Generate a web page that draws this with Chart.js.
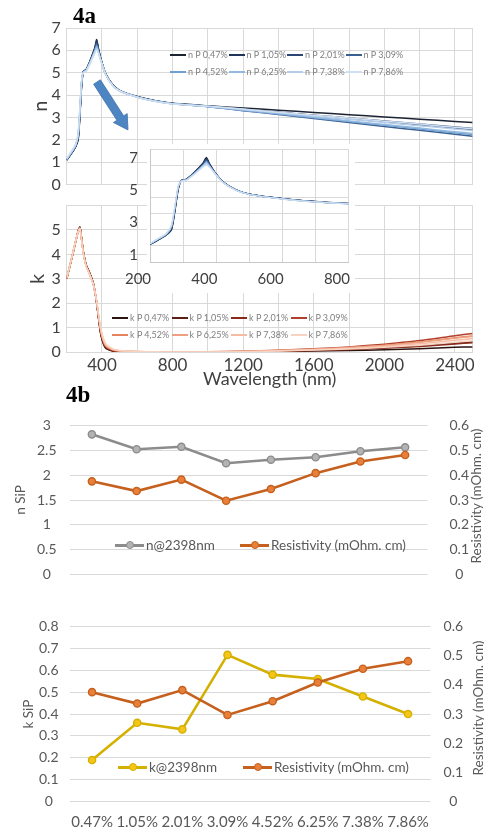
<!DOCTYPE html>
<html><head><meta charset="utf-8">
<script src="https://cdn.jsdelivr.net/npm/chart.js@4.4.1/dist/chart.umd.min.js"></script>
<style>
html,body{margin:0;padding:0;background:#fff;}
body{width:484px;height:832px;position:relative;overflow:hidden;font-family:Lato,"Open Sans",sans-serif;}
canvas{position:absolute;}
.li{position:absolute;font-size:9px;line-height:10px;color:#7f7f7f;display:flex;align-items:center;white-space:nowrap;transform:translateY(-50%);}
.sw{display:inline-block;width:16px;height:2px;margin-right:2px;}
.bl{position:absolute;font-size:13.5px;color:#595959;display:flex;align-items:center;white-space:nowrap;transform:translateY(-50%);}
.mk{position:relative;display:inline-block;width:29px;height:3px;margin-right:2px;}
.mk i{position:absolute;left:50%;top:50%;width:6px;height:6px;border-radius:50%;transform:translate(-50%,-50%);border:1.5px solid;}
.rt{position:absolute;transform:translate(-50%,-50%) rotate(-90deg);font-size:13.5px;color:#595959;white-space:nowrap;}
.fig{position:absolute;font-family:"Liberation Serif","DejaVu Serif",serif;font-weight:bold;font-size:23px;line-height:23px;color:#000;}
</style></head><body>
<canvas id="cN" width="484" height="200" style="left:0;top:0"></canvas>
<canvas id="cK" width="484" height="200" style="left:0;top:190px"></canvas>
<canvas id="cIn" width="252" height="165" style="left:118px;top:128px"></canvas>
<canvas id="cB1" width="484" height="210" style="left:0;top:395px"></canvas>
<canvas id="cB2" width="484" height="227" style="left:0;top:605px"></canvas>
<svg width="484" height="200" style="position:absolute;left:0;top:0;pointer-events:none">
  <polygon points="100.4,79.8 123.7,115.9 127.2,113.6 128,129.9 113.4,122.5 116.9,120.3 93.6,84.2" fill="#4d84c2" stroke="#3f72ad" stroke-width="0.8"/>
</svg>
<div class="fig" style="left:73px;top:4px">4a</div>
<div class="fig" style="left:66px;top:383px">4b</div>
<div id="legN"></div>
<div id="legK"></div>
<div id="leg4b"></div>
<script>
// ---------- data ----------
const wavelengths = [200,230,250,265,275,285,295,310,330,350,360,370,380,395,420,460,500,600,700,800,1000,1200,1400,1600,1800,2000,2200,2400,2500];
const wavelengthTicks = [200,400,600,800,1000,1200,1400,1600,1800,2000,2200,2400,2500];
const nLabels = ['n P 0,47%','n P 1,05%','n P 2,01%','n P 3,09%','n P 4,52%','n P 6,25%','n P 7,38%','n P 7,86%'];
const kLabels = ['k P 0,47%','k P 1,05%','k P 2,01%','k P 3,09%','k P 4,52%','k P 6,25%','k P 7,38%','k P 7,86%'];
const nColors = ['#1c2434','#22335a','#2b4674','#3a5f91','#6f9fd0','#93b9e0','#b3cdea','#cfdff1'];
const kColors = ['#2b1410','#5c1f14','#8a2a1a','#b0402a','#e4835f','#eea080','#f4bca2','#f8d3c2'];

const nP047 = [1.08,1.42,1.68,2.00,3.10,4.45,5.05,5.14,5.48,5.90,6.14,6.48,6.08,5.58,4.97,4.47,4.21,3.93,3.75,3.63,3.52,3.42,3.32,3.22,3.12,3.02,2.92,2.82,2.77];
const nP105 = [1.09,1.43,1.69,2.04,3.15,4.50,5.06,5.13,5.47,5.88,6.10,6.42,6.05,5.57,4.96,4.46,4.20,3.92,3.74,3.62,3.50,3.36,3.22,3.08,2.94,2.80,2.66,2.52,2.45];
const nP201 = [1.10,1.44,1.70,2.08,3.20,4.55,5.06,5.12,5.46,5.86,6.07,6.36,6.02,5.56,4.96,4.46,4.20,3.92,3.74,3.62,3.50,3.37,3.23,3.10,2.97,2.84,2.70,2.57,2.50];
const nP309 = [1.11,1.45,1.71,2.12,3.25,4.58,5.05,5.11,5.45,5.84,6.04,6.30,5.98,5.55,4.95,4.45,4.19,3.91,3.73,3.61,3.48,3.30,3.13,2.95,2.77,2.59,2.42,2.24,2.15];
const nP452 = [1.12,1.47,1.73,2.18,3.32,4.62,5.04,5.10,5.43,5.80,6.00,6.22,5.95,5.53,4.94,4.45,4.19,3.91,3.73,3.61,3.48,3.31,3.15,2.98,2.81,2.65,2.48,2.31,2.23];
const nP625 = [1.13,1.48,1.75,2.22,3.38,4.66,5.03,5.09,5.41,5.77,5.96,6.15,5.92,5.52,4.94,4.44,4.19,3.91,3.73,3.61,3.49,3.33,3.17,3.01,2.84,2.68,2.52,2.36,2.28];
const nP738 = [1.14,1.50,1.77,2.26,3.42,4.68,5.02,5.08,5.39,5.74,5.93,6.08,5.89,5.51,4.93,4.44,4.18,3.90,3.72,3.61,3.50,3.35,3.21,3.06,2.92,2.77,2.63,2.48,2.41];
const nP786 = [1.15,1.51,1.78,2.30,3.46,4.70,5.01,5.07,5.37,5.72,5.90,6.02,5.86,5.50,4.93,4.43,4.18,3.90,3.72,3.60,3.50,3.37,3.23,3.10,2.97,2.83,2.70,2.56,2.49];

const kP047 = [3.00,3.88,4.50,4.97,5.12,4.62,4.08,3.58,3.25,2.85,2.48,2.00,1.40,0.65,0.16,0.04,0.01,0.00,0.00,0.00,0.00,0.01,0.02,0.04,0.06,0.09,0.13,0.19,0.21];
const kP105 = [3.00,3.88,4.50,4.96,5.11,4.61,4.07,3.57,3.24,2.83,2.47,2.00,1.42,0.68,0.19,0.05,0.02,0.01,0.00,0.00,0.00,0.01,0.04,0.07,0.11,0.17,0.25,0.36,0.41];
const kP201 = [3.00,3.89,4.51,4.96,5.10,4.60,4.06,3.56,3.22,2.82,2.46,2.01,1.44,0.71,0.21,0.06,0.02,0.01,0.00,0.00,0.00,0.01,0.03,0.06,0.10,0.16,0.23,0.33,0.38];
const kP309 = [3.01,3.89,4.51,4.95,5.09,4.59,4.05,3.55,3.21,2.81,2.45,2.02,1.46,0.74,0.23,0.07,0.03,0.01,0.00,0.00,0.01,0.03,0.07,0.13,0.21,0.32,0.47,0.67,0.76];
const kP452 = [3.01,3.90,4.52,4.95,5.08,4.58,4.04,3.54,3.20,2.80,2.45,2.03,1.48,0.78,0.26,0.09,0.04,0.01,0.00,0.00,0.01,0.02,0.06,0.11,0.18,0.28,0.41,0.58,0.66];
const kP625 = [3.02,3.90,4.52,4.94,5.07,4.57,4.03,3.53,3.19,2.80,2.46,2.05,1.50,0.82,0.29,0.10,0.05,0.02,0.00,0.00,0.01,0.02,0.06,0.11,0.18,0.27,0.40,0.56,0.64];
const kP738 = [3.02,3.91,4.53,4.94,5.06,4.56,4.02,3.52,3.18,2.79,2.46,2.06,1.53,0.86,0.32,0.12,0.05,0.02,0.01,0.00,0.00,0.02,0.05,0.09,0.15,0.23,0.34,0.48,0.55];
const kP786 = [3.03,3.91,4.53,4.93,5.05,4.55,4.01,3.51,3.17,2.79,2.47,2.08,1.56,0.90,0.35,0.13,0.06,0.02,0.01,0.00,0.00,0.01,0.04,0.08,0.12,0.19,0.28,0.40,0.46];

const phosphorus = ['0.47%','1.05%','2.01%','3.09%','4.52%','6.25%','7.38%','7.86%'];
const nAt2398 = [2.82,2.52,2.57,2.24,2.31,2.36,2.48,2.56];
const kAt2398 = [0.19,0.36,0.33,0.67,0.58,0.56,0.48,0.40];
const resistivity = [0.375,0.336,0.382,0.297,0.344,0.408,0.455,0.481];
const nLabel4b = 'n@2398nm', kLabel4b = 'k@2398nm', resLabel = 'Resistivity (mOhm. cm)';

const nSeries = [nP047,nP105,nP201,nP309,nP452,nP625,nP738,nP786];
const kSeries = [kP047,kP105,kP201,kP309,kP452,kP625,kP738,kP786];

// ---------- styling ----------
Chart.defaults.font.family = 'Lato, "Open Sans", sans-serif';
Chart.defaults.color = '#404040';
const GRID = '#d9d9d9';
const base = {responsive:false, animation:false, devicePixelRatio:1, events:[],
  plugins:{legend:{display:false}, tooltip:{enabled:false}}};
const fmt = v => String(Math.round(v*100)/100);

function spectrum(arrs, labels, colors, w){
  return arrs.map((arr,i)=>({label:labels[i],
    data:wavelengths.map((x,j)=>({x:x,y:arr[j]})),
    borderColor:colors[i], backgroundColor:colors[i], borderWidth:w,
    pointRadius:0, tension:0.2, fill:false, order:arrs.length-1-i}));
}
const setTicks = s => { s.ticks = wavelengthTicks.map(v=>({value:v})); };

// n panel
new Chart(document.getElementById('cN'), {type:'line',
  data:{datasets:spectrum(nSeries,nLabels,nColors,1.5)},
  options:{...base, layout:{padding:{left:0,right:11.4,top:28,bottom:14}},
    scales:{
      x:{type:'linear',min:200,max:2500,afterBuildTicks:setTicks,ticks:{display:false},
         grid:{color:GRID,drawTicks:false},border:{color:GRID},afterFit:s=>{s.height=0;}},
      y:{min:0,max:7,ticks:{stepSize:1,padding:6,font:{size:16}},grid:{color:GRID,drawTicks:false},
         border:{color:GRID},title:{display:true,text:'n',font:{size:20},padding:{top:29,bottom:0}},
         afterFit:s=>{s.width=66.7;}}
    }}});

// k panel
new Chart(document.getElementById('cK'), {type:'line',
  data:{datasets:spectrum(kSeries,kLabels,kColors,1.5)},
  options:{...base, layout:{padding:{left:0,right:11.4,top:2,bottom:0}},
    scales:{
      x:{type:'linear',min:200,max:2500,afterBuildTicks:setTicks,
         ticks:{autoSkip:false,maxRotation:0,padding:3,font:{size:17},
           callback:v=>(v%400===0&&v>=400&&v<=2400)?v:''},
         grid:{color:GRID,drawTicks:false},border:{color:GRID},
         title:{display:true,text:'Wavelength (nm)',font:{size:18},padding:{top:0,bottom:0}},
         afterFit:s=>{s.height=38;}},
      y:{min:0,max:6,ticks:{stepSize:1,padding:6,font:{size:16},callback:v=>v===6?'':v},
         grid:{color:GRID,drawTicks:false},border:{color:GRID},
         title:{display:true,text:'k',font:{size:20},padding:{top:26,bottom:0}},
         afterFit:s=>{s.width=66.7;}}
    }}});

// inset
const insetBg = {id:'insetBg', beforeDraw(c){const a=c.chartArea, x=c.ctx; x.save(); x.fillStyle='#fff';
  x.fillRect(a.left-3,a.top-5,a.right-a.left+9,c.height-(a.top-5)); x.restore();}};
new Chart(document.getElementById('cIn'), {type:'line',
  data:{datasets:spectrum(nSeries,nLabels,nColors,1.2)},
  plugins:[insetBg],
  options:{...base, layout:{padding:{left:0,right:10,top:7,bottom:6}},
    scales:{
      x:{type:'linear',min:200,max:800,ticks:{stepSize:100,autoSkip:false,maxRotation:0,labelOffset:-12,padding:8,
           font:{size:15},callback:v=>v%200===0?v:''},
         grid:{color:GRID,drawTicks:false},border:{color:'#c8c8c8'},afterFit:s=>{s.height=25;}},
      y:{min:0,max:7,ticks:{stepSize:1,autoSkip:false,labelOffset:9,padding:12,font:{size:15},
           callback:v=>v%2===1?v:''},
         grid:{color:GRID,drawTicks:false},border:{color:'#c8c8c8'},afterFit:s=>{s.width=32;}}
    }}});

// 4b
const grey={line:'#8c8c8c',fill:'#b3b3b3'}, orange={line:'#c5601e',fill:'#e8803a'}, yellow={line:'#d4b000',fill:'#f5c518'};
function ds(label,data,axis,c,order){return {label,data,yAxisID:axis,borderColor:c.line,borderWidth:2.6,
  pointRadius:3.6,pointBackgroundColor:c.fill,pointBorderColor:c.line,pointBorderWidth:1.4,tension:0,order};}
const tickCol='#595959';
new Chart(document.getElementById('cB1'), {type:'line',
  data:{labels:phosphorus,datasets:[ds(nLabel4b,nAt2398,'y',grey,1),ds(resLabel,resistivity,'y2',orange,0)]},
  options:{...base, layout:{padding:{left:0,right:0,top:13.3,bottom:0}},
    scales:{
      x:{type:'category',offset:true,ticks:{display:false},grid:{display:false},border:{display:false},afterFit:s=>{s.height=14;}},
      y:{position:'left',min:0,max:3,ticks:{stepSize:0.5,padding:13,crossAlign:'center',font:{size:14},color:tickCol,callback:fmt},
         grid:{color:GRID,drawTicks:false},border:{display:false},
         title:{display:true,text:'n SiP',font:{size:13.5},color:tickCol,padding:{top:13,bottom:0}},afterFit:s=>{s.width=69.5;}},
      y2:{position:'right',min:0,max:0.6,ticks:{stepSize:0.1,padding:22,crossAlign:'center',font:{size:14},color:tickCol,callback:fmt},
         grid:{display:false,drawTicks:false},border:{display:false},afterFit:s=>{s.width=56.5;}}
    }}});
new Chart(document.getElementById('cB2'), {type:'line',
  data:{labels:phosphorus,datasets:[ds(kLabel4b,kAt2398,'y',yellow,1),ds(resLabel,resistivity,'y2',orange,0)]},
  options:{...base, layout:{padding:{left:0,right:0,top:14.3,bottom:0}},
    scales:{
      x:{type:'category',offset:true,ticks:{padding:11,font:{size:15},color:tickCol,maxRotation:0,autoSkip:false},
         grid:{display:false,drawTicks:false},border:{display:false},afterFit:s=>{s.height=30.3;}},
      y:{position:'left',min:0,max:0.8,ticks:{stepSize:0.1,padding:11,crossAlign:'center',font:{size:14},color:tickCol,callback:fmt},
         grid:{color:GRID,drawTicks:false},border:{display:false},
         title:{display:true,text:'k SiP',font:{size:13.5},color:tickCol,padding:{top:21,bottom:0}},afterFit:s=>{s.width=69.5;}},
      y2:{position:'right',min:0,max:0.6,ticks:{stepSize:0.1,padding:13,crossAlign:'center',font:{size:14},color:tickCol,callback:fmt},
         grid:{display:false,drawTicks:false},border:{display:false},afterFit:s=>{s.width=53.4;}}
    }}});

// ---------- legends & side titles ----------
function specLegend(id,labels,colors,x0,y0,colW,rowH){
  const el=document.getElementById(id);
  labels.forEach((lab,i)=>{const d=document.createElement('div');d.className='li';
    d.style.left=(x0+(i%4)*colW)+'px';d.style.top=(y0+Math.floor(i/4)*rowH)+'px';
    d.innerHTML='<span class="sw" style="background:'+colors[i]+'"></span><span>'+lab+'</span>';el.appendChild(d);});
}
specLegend('legN',nLabels,nColors,170,55,58.5,17);
specLegend('legK',kLabels,kColors,112,318,59.5,17);
function bLegend(label,c,x,y){const d=document.createElement('div');d.className='bl';d.style.left=x+'px';d.style.top=y+'px';
  d.innerHTML='<span class="mk" style="background:'+c.line+'"><i style="background:'+c.fill+';border-color:'+c.line+'"></i></span>'+label;
  document.getElementById('leg4b').appendChild(d);}
bLegend(nLabel4b,grey,115,545);bLegend(resLabel,orange,240,545);
bLegend(kLabel4b,yellow,118,767);bLegend(resLabel,orange,243,767);
function rTitle(x,y){const d=document.createElement('div');d.className='rt';d.style.left=x+'px';d.style.top=y+'px';
  d.textContent=resLabel;document.getElementById('leg4b').appendChild(d);}
rTitle(476,496);rTitle(478,708);
</script>
</body></html>
